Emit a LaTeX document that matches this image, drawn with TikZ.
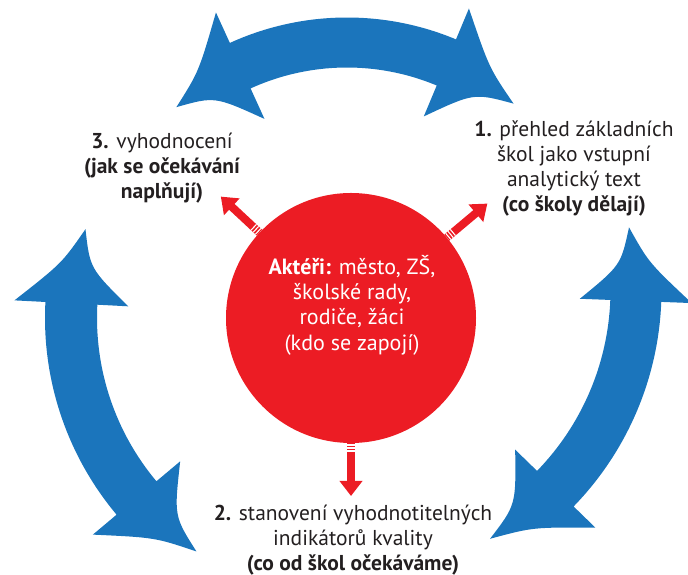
\documentclass[tikz,border=0pt]{standalone}
\usepackage{fontspec}
\setmainfont{PT Sans}
\usetikzlibrary{arrows.meta,calc}
\definecolor{arrowblue}{HTML}{1B75BC}
\definecolor{actorred}{HTML}{EC1C24}
\definecolor{txt}{HTML}{231F20}
% blue curved double arrow, drawn in a scope shifted to its centre
% #1 R, #2 half band width, #3 half head width, #4 a1, #5 a2, #6 tip1, #7 tip2, #8 outer barb back, #9 inner barb fwd
\newcommand{\bluedoublearc}[9]{%
  \pgfmathsetmacro\bxRo{#1+#2}\pgfmathsetmacro\bxRi{#1-#2}%
  \pgfmathsetmacro\bxHo{#1+#3}\pgfmathsetmacro\bxHi{#1-#3}%
  \pgfmathsetmacro\bxQo{#1+0.25*#3}\pgfmathsetmacro\bxQi{#1-0.25*#3}%
  \pgfmathsetmacro\bxoA{#4-#8*(#6-#4)}\pgfmathsetmacro\bxiA{#4+#9*(#6-#4)}%
  \pgfmathsetmacro\bxoB{#5-#8*(#7-#5)}\pgfmathsetmacro\bxiB{#5+#9*(#7-#5)}%
  \pgfmathsetmacro\bxmoA{(\bxoA+#6)/2}\pgfmathsetmacro\bxmiA{(\bxiA+#6)/2}%
  \pgfmathsetmacro\bxmoB{(\bxoB+#7)/2}\pgfmathsetmacro\bxmiB{(\bxiB+#7)/2}%
  \fill[arrowblue] (#4:\bxRo) -- (\bxoA:\bxHo) .. controls (\bxmoA:\bxQo) .. (#6:#1)
    .. controls (\bxmiA:\bxQi) .. (\bxiA:\bxHi) -- (#4:\bxRi)
    arc[start angle=#4, end angle=#5, radius=\bxRi pt]
    -- (\bxiB:\bxHi) .. controls (\bxmiB:\bxQi) .. (#7:#1)
    .. controls (\bxmoB:\bxQo) .. (\bxoB:\bxHo) -- (#5:\bxRo)
    arc[start angle=#5, end angle=#4, radius=\bxRo pt] -- cycle;
}
\tikzset{
  label/.style={text=txt, align=center, inner sep=0pt, font=\fontsize{21.5}{25}\selectfont},
  actor/.style={circle, fill=actorred, minimum size=250pt, inner sep=0pt},
  actortext/.style={text=white, align=center, inner sep=0pt, font=\fontsize{22}{25.3}\selectfont},
  redarrow/.style={draw=actorred, line width=8pt, -{Triangle[width=22pt,length=15pt]}},
  stripe/.style={draw=white, line width=1.1pt}
}
\begin{document}
\begin{tikzpicture}[x=1pt,y=1pt]
\useasboundingbox (0,0) rectangle (688,575);
% blue arrows
\begin{scope}[shift={(347,275)}]
  \bluedoublearc{257.5}{25}{58.5}{114.5}{67.3}{131.5}{49.7}{0}{0}
\end{scope}
\begin{scope}[shift={(351,257)}]
  \bluedoublearc{280}{26}{57}{177}{220}{161.5}{236.5}{0}{0}
\end{scope}
\begin{scope}[shift={(351,285)}]
  \bluedoublearc{285}{25.5}{56}{-2.2}{-44.2}{12.7}{-60.8}{0}{0}
\end{scope}
% central circle
\node[actor] (actors) at (351,257) {};
\node[actortext] (actorstext) at (352,270) {\textbf{Aktéři:} město, ZŠ,\\školské rady,\\rodiče, žáci\\(kdo se zapojí)};
% red arrows
\coordinate (tipL) at ($(actors.center)+(137:178)$);
\coordinate (tipR) at ($(actors.center)+(40:178)$);
\coordinate (tipB) at ($(actors.center)+(-90:178)$);
\draw[redarrow] (actors.137) -- (tipL);
\draw[redarrow] (actors.40) -- (tipR);
\draw[redarrow] (actors.-90) -- (tipB);
\foreach \d in {2,5,8} {
  \draw[stripe] ($(actors.center)+(137:125+\d)+(47:4)$) -- ($(actors.center)+(137:125+\d)+(227:4)$);
  \draw[stripe] ($(actors.center)+(40:125+\d)+(130:4)$) -- ($(actors.center)+(40:125+\d)+(-50:4)$);
  \draw[stripe] ($(actors.center)+(-90:125+\d)+(0:4)$) -- ($(actors.center)+(-90:125+\d)+(180:4)$);
}
% labels
\node[label] (s1) at (574,406) {\textbf{1.} přehled základních\\škol jako vstupní\\analytický text\\\textbf{(co školy dělají)}};
\node[label] (s3) at (162,407) {\textbf{3.} vyhodnocení\\\textbf{(jak se očekávání}\\\textbf{naplňují)}};
\node[label] (s2) at (353,35) {\textbf{2.} stanovení vyhodnotitelných\\indikátorů kvality\\\textbf{(co od škol očekáváme)}};
\end{tikzpicture}
\end{document}
